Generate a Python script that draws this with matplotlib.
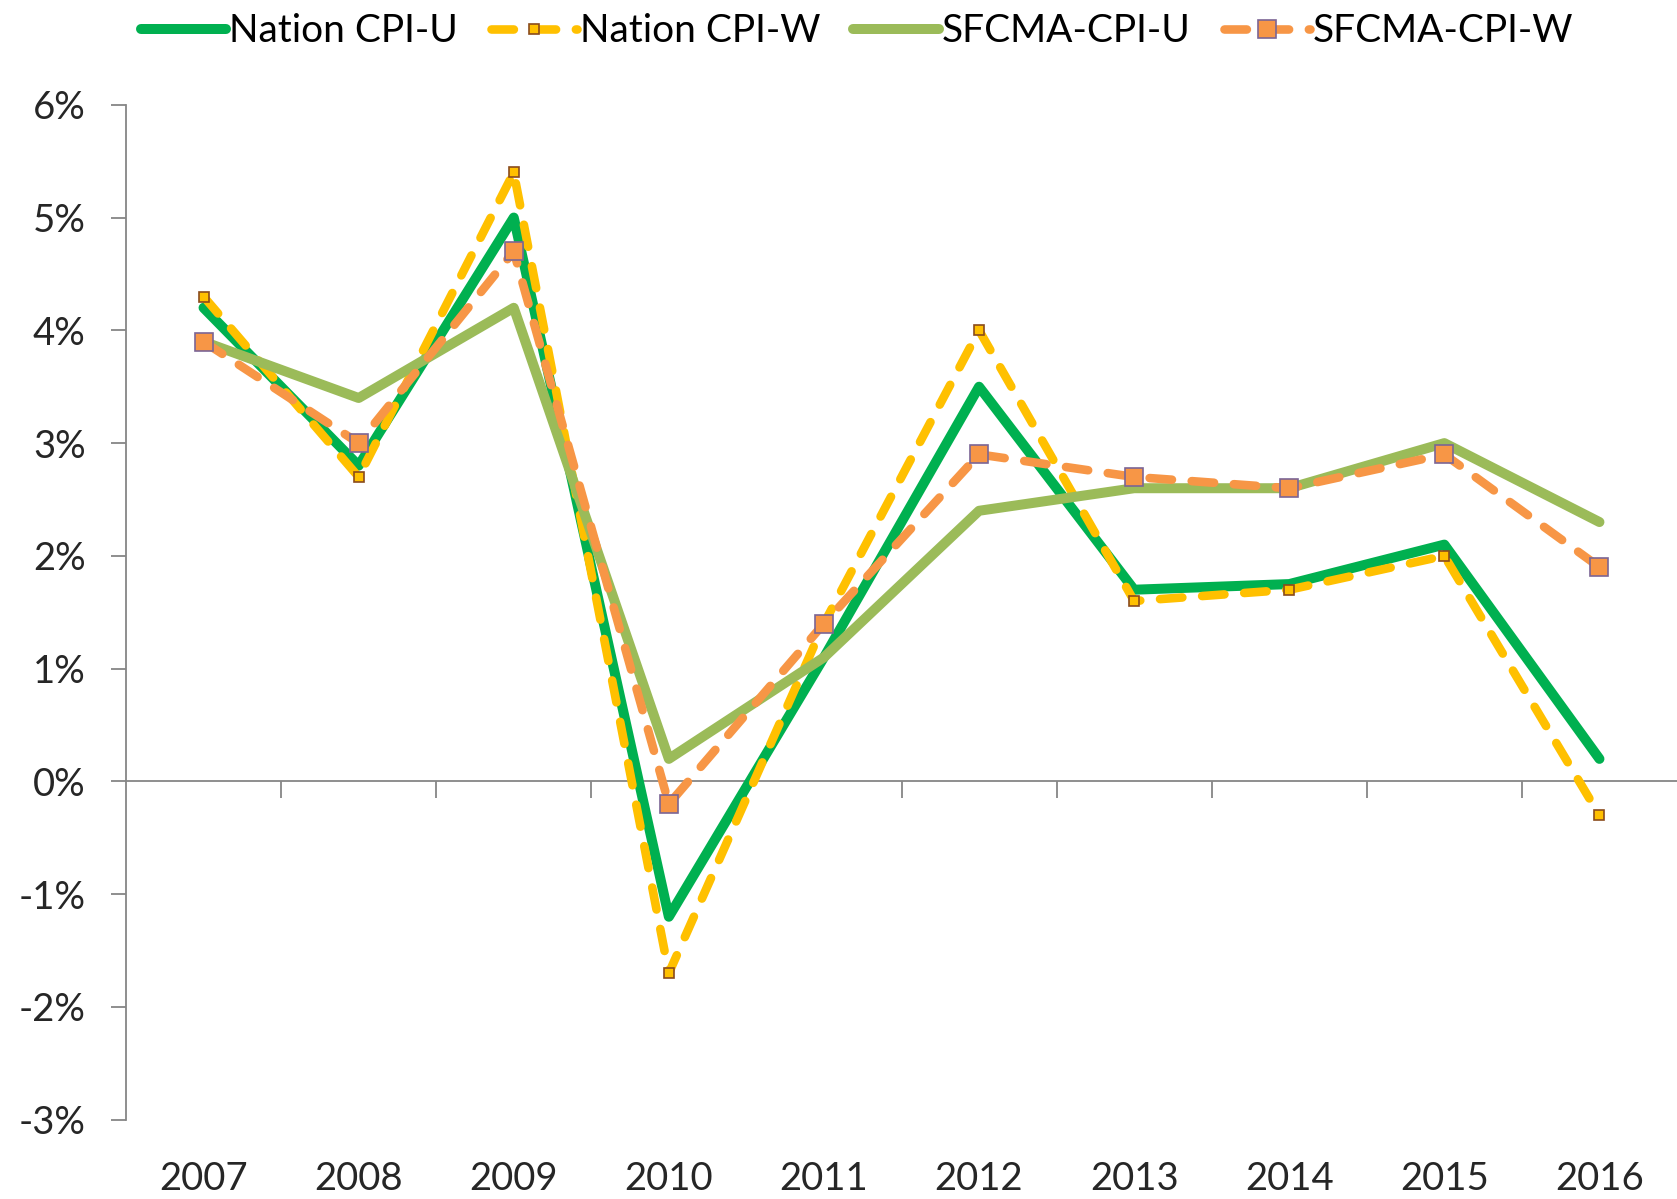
"""
CPI change by year: nation vs SF metro area, U and W indices
"""

import matplotlib
matplotlib.use("Agg")
import matplotlib.pyplot as plt
from matplotlib.ticker import FuncFormatter, FixedLocator

years = ["2007", "2008", "2009", "2010", "2011", "2012", "2013", "2014", "2015", "2016"]

nation_cpi_u = [4.2, 2.8, 5.0, -1.2, 1.1, 3.5, 1.7, 1.75, 2.1, 0.2]
nation_cpi_w = [4.3, 2.7, 5.4, -1.7, 1.4, 4.0, 1.6, 1.7, 2.0, -0.3]
sfcma_cpi_u = [3.9, 3.4, 4.2, 0.2, 1.1, 2.4, 2.6, 2.6, 3.0, 2.3]
sfcma_cpi_w = [3.9, 3.0, 4.7, -0.2, 1.4, 2.9, 2.7, 2.6, 2.9, 1.9]

y_ticks = [-3, -2, -1, 0, 1, 2, 3, 4, 5, 6]

plt.rcParams['font.family'] = ['Lato', 'DejaVu Sans']
plt.rcParams['axes.unicode_minus'] = False

W, H = 1677, 1199
fig = plt.figure(figsize=(W / 100., H / 100.), dpi=100)
ax = fig.add_axes([126. / W, 0.0661, 1 - 126. / W, 0.9126 - 0.0661])

x = list(range(len(years)))
axis_grey = '#868686'

# series, in excel order so later ones sit on top
ax.plot(x, nation_cpi_u, '-', color='#00B050', lw=7.2, solid_joinstyle='round',
        solid_capstyle='round', label='Nation CPI-U', zorder=3)
l2, = ax.plot(x, nation_cpi_w, '--', color='#FFC000', lw=6.2, marker='s', ms=7,
              mfc='#FFC000', mec='#8A4B1C', mew=1.2, dash_capstyle='round',
              label='Nation CPI-W', zorder=4)
l2.set_dashes([2.6, 2.3])
ax.plot(x, sfcma_cpi_u, '-', color='#9BBB59', lw=7.2, solid_joinstyle='round',
        solid_capstyle='round', label='SFCMA-CPI-U', zorder=5)
l4, = ax.plot(x, sfcma_cpi_w, '--', color='#F79646', lw=6.2, marker='s', ms=13.5,
              mfc='#F79646', mec='#7B6595', mew=1.2, dash_capstyle='round',
              label='SFCMA-CPI-W', zorder=6)
l4.set_dashes([2.6, 2.3])

ax.set_xlim(-0.5, len(years) - 0.5)
ax.set_ylim(-3, 6)

# y axis: grey spine, outward ticks, percent labels with plain hyphen
for s in ['top', 'right', 'bottom']:
    ax.spines[s].set_visible(False)
ax.spines['left'].set_color(axis_grey)
ax.spines['left'].set_linewidth(1.3)
ax.set_yticks(y_ticks)
ax.yaxis.set_major_formatter(FuncFormatter(lambda v, p: "%d%%" % v))
ax.tick_params(axis='y', direction='out', length=11, width=1.3, color=axis_grey,
               pad=18, labelsize=27.5, labelcolor='#262626')

# category labels at the bottom, no marks
ax.set_xticks(x)
ax.set_xticklabels(years)
ax.tick_params(axis='x', length=0, pad=30, labelsize=27.5, labelcolor='#262626')

# horizontal axis line at 0% with tick marks between categories
zero_frac = (0 - y_ticks[0]) / float(y_ticks[-1] - y_ticks[0])
sec = ax.secondary_xaxis(zero_frac)
sec.spines['bottom'].set_color(axis_grey)
sec.spines['bottom'].set_linewidth(1.3)
sec.xaxis.set_major_locator(FixedLocator([i + 0.5 for i in x[:-1]]))
sec.tick_params(axis='x', direction='out', length=12, width=1.3, color=axis_grey,
                labelbottom=False)

leg = fig.legend(loc='center', bbox_to_anchor=(0.511, 0.974), ncol=4, frameon=False,
                 fontsize=28, handlelength=2.2, handletextpad=0.08, columnspacing=0.85,
                 borderaxespad=0, borderpad=0)

plt.savefig("out.png", dpi=100)
